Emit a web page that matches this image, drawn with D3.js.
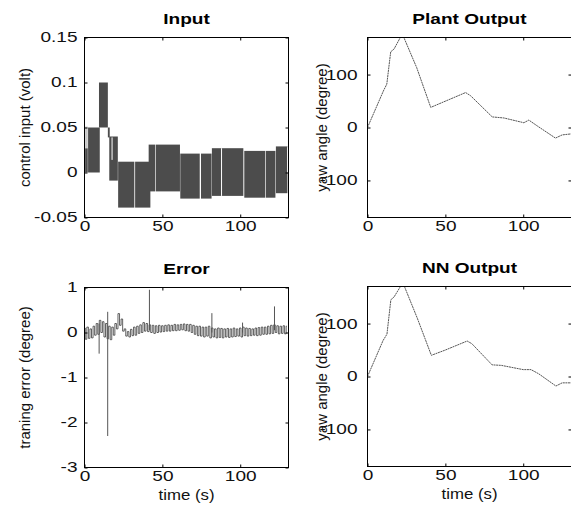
<!DOCTYPE html>
<html>
<head>
<meta charset="utf-8">
<script src="https://cdn.jsdelivr.net/npm/d3@7"></script>
<style>
  body { margin: 0; background: #fff; }
  svg { display: block; font-family: "Liberation Sans", Arial, sans-serif; }
</style>
</head>
<body>
<svg id="chart" width="571" height="511"></svg>
<script>
// tick values
const timeTicks = [0, 50, 100];
const inputTicks = [-0.05, 0, 0.05, 0.1, 0.15];
const yawTicks = [-100, 0, 100];
const errTicks = [-3, -2, -1, 0, 1];

// control input: bands where the signal chatters between hi and lo  [t0, t1, hi, lo]
const inputBlocks = [
  [0.4, 2.1, 0.027, 0.0],
  [2.3, 9.8, 0.05, 0.0],
  [9.3, 15.0, 0.1, 0.05],
  [15.0, 16.2, 0.05, 0.039],
  [15.9, 21.4, 0.04, -0.009],
  [21.6, 32.0, 0.012, -0.039],
  [32.5, 42.3, 0.012, -0.039],
  [41.2, 45.3, 0.031, -0.021],
  [45.7, 61.3, 0.031, -0.021],
  [61.5, 74.0, 0.021, -0.029],
  [74.8, 81.6, 0.021, -0.029],
  [81.8, 102.0, 0.027, -0.026],
  [102.6, 116.0, 0.024, -0.028],
  [116.4, 122.6, 0.024, -0.028],
  [122.9, 130.3, 0.029, -0.023]
];
const inputLight = [[0.4, 2.1, 0.051, 0.027]];
const inputGaps = [[17.7, 0.039, 0.014], [88.0, 0.027, -0.026], [130.5, 0.028, 0.0]];

// plant output (yaw angle)
const plantT   = [0, 10.2, 12.4, 14.9, 17, 21.8, 23.5, 31.6, 40.6, 63, 66.2, 80.1, 87.6, 100.4, 103.6, 109, 120.7, 125, 131];
const plantYaw = [0, 69, 82, 143, 148, 174, 169, 113, 38, 66, 60, 20, 18, 9, 14, 3, -20, -14, -12];

// NN output (yaw angle)
const nnT   = [0, 10, 12.5, 15, 17, 22, 24, 32, 41, 50, 64, 67, 80, 86, 100, 105, 110, 121, 125, 131];
const nnYaw = [0, 68, 80, 145, 150, 174, 168, 110, 40, 50, 67, 62, 22, 21, 13, 13, 5, -18, -12, -12];

// training error, one sample per second
const errVals = [
  0.1, -0.15, 0.12, -0.13, 0.08, -0.12, 0.14, -0.06, 0.2, -0.04,
  0.27, 0.0, 0.24, -0.1, 0.2, -0.14, 0.14, -0.16, 0.12, -0.06,
  0.2, 0.08, 0.42, 0.16, 0.3, 0.03, 0.08, -0.08, 0.02, -0.1,
  0.07, -0.07, 0.12, -0.06, 0.14, -0.02, 0.17, 0.0, 0.22, 0.03,
  0.2, 0.02, 0.17, 0.0, 0.16, -0.02, 0.15, 0.0, 0.16, 0.01,
  0.15, 0.02, 0.16, 0.03, 0.17, 0.03, 0.16, 0.04, 0.18, 0.04,
  0.17, 0.05, 0.18, 0.06, 0.19, 0.04, 0.18, 0.03, 0.18, 0.0,
  0.16, -0.04, 0.14, -0.07, 0.14, -0.08, 0.12, -0.1, 0.12, -0.08,
  0.14, -0.12, 0.1, -0.1, 0.08, -0.12, 0.1, -0.11, 0.09, -0.12,
  0.08, -0.1, 0.09, -0.11, 0.08, -0.1, 0.1, -0.09, 0.08, -0.08,
  0.1, -0.1, 0.12, -0.07, 0.1, -0.08, 0.09, -0.07, 0.08, -0.06,
  0.1, -0.07, 0.11, -0.06, 0.12, -0.04, 0.12, -0.04, 0.14, -0.03,
  0.16, -0.02, 0.17, 0.0, 0.15, -0.03, 0.14, -0.02, 0.15, -0.03,
  0.14
];
// isolated spikes  [t, top, bottom]
const errSpikes = [[9.4, 0.2, -0.47], [14.9, 0.46, -2.3], [41.7, 0.95, 0.05], [81.8, 0.43, 0.0], [101.5, 0.22, 0.0], [122, 0.58, 0.05]];

const svg = d3.select("#chart");

// dithered fills like the old screen capture
const defs = svg.append("defs");
function checker(id, a, b) {
  const p = defs.append("pattern").attr("id", id)
    .attr("width", 2).attr("height", 2).attr("patternUnits", "userSpaceOnUse");
  p.append("rect").attr("width", 2).attr("height", 2).attr("fill", b);
  p.append("rect").attr("width", 1).attr("height", 1).attr("fill", a);
  p.append("rect").attr("x", 1).attr("y", 1).attr("width", 1).attr("height", 1).attr("fill", a);
}
checker("dark", "#222", "#777");
checker("light", "#9a9a9a", "#f4f4f4");

function stretch(sel, k) {
  sel.each(function() {
    const w = this.getComputedTextLength();
    d3.select(this).attr("textLength", w * k).attr("lengthAdjust", "spacingAndGlyphs");
  });
}

function makePanel(id, left, top, yDomain, yTicks, yPad, title, ylabel, xlabel) {
  const w = 204, h = 180;
  const g = svg.append("g").attr("transform", "translate(" + (left + 0.5) + "," + (top + 0.5) + ")");
  const x = d3.scaleLinear().domain([0, 131]).range([0, w]);
  const y = d3.scaleLinear().domain(yDomain).range([h, 0]);

  defs.append("clipPath").attr("id", "clip" + id)
    .append("rect").attr("width", w).attr("height", h);
  const plot = g.append("g").attr("clip-path", "url(#clip" + id + ")");

  function finish() {
    const fmt = d => String(d);
    const bottom = g.append("g").attr("transform", "translate(0," + h + ")")
      .call(d3.axisBottom(x).tickValues(timeTicks).tickSizeInner(-3).tickSizeOuter(0).tickPadding(4));
    g.append("g")
      .call(d3.axisTop(x).tickValues(timeTicks).tickSizeInner(-3).tickSizeOuter(0).tickFormat(""));
    const leftAx = g.append("g")
      .call(d3.axisLeft(y).tickValues(yTicks).tickFormat(fmt).tickSizeInner(-3).tickSizeOuter(0).tickPadding(yPad));
    g.append("g").attr("transform", "translate(" + w + ",0)")
      .call(d3.axisRight(y).tickValues(yTicks).tickSizeInner(-3).tickSizeOuter(0).tickFormat(""));

    g.selectAll(".domain").remove();
    g.selectAll(".tick line").attr("stroke", "#000");
    [bottom, leftAx].forEach(a => {
      a.attr("font-size", null).attr("font-family", null);
      a.selectAll("text").attr("font-size", 14).attr("fill", "#111");
      stretch(a.selectAll("text"), 1.36);
    });

    g.append("rect").attr("width", w).attr("height", h)
      .attr("fill", "none").attr("stroke", "#000");

    const t = g.append("text").attr("x", w / 2).attr("y", -14)
      .attr("text-anchor", "middle").attr("font-size", 14).attr("font-weight", "bold")
      .text(title);
    stretch(t, 1.36);

    g.append("text")
      .attr("transform", "translate(" + (id % 2 ? -55 : -41) + "," + (h / 2) + ") rotate(-90)")
      .attr("text-anchor", "middle").attr("font-size", 15).attr("fill", "#111")
      .text(ylabel);

    if (xlabel) {
      const xl = g.append("text").attr("x", w / 2).attr("y", h + 32)
        .attr("text-anchor", "middle").attr("font-size", 15).attr("fill", "#111")
        .text(xlabel);
      stretch(xl, 1.12);
    }
  }
  return { g, plot, x, y, finish };
}

// ---- Input
const p1 = makePanel(1, 84, 37, [-0.05, 0.15], inputTicks, 7, "Input", "control input (volt)");
p1.plot.selectAll("rect.blk").data(inputBlocks).enter().append("rect")
  .attr("class", "blk")
  .attr("x", d => p1.x(d[0])).attr("width", d => p1.x(d[1]) - p1.x(d[0]))
  .attr("y", d => p1.y(d[2])).attr("height", d => p1.y(d[3]) - p1.y(d[2]))
  .attr("fill", "url(#dark)");
p1.plot.selectAll("rect.lt").data(inputLight).enter().append("rect")
  .attr("class", "lt")
  .attr("x", d => p1.x(d[0])).attr("width", d => p1.x(d[1]) - p1.x(d[0]))
  .attr("y", d => p1.y(d[2])).attr("height", d => p1.y(d[3]) - p1.y(d[2]))
  .attr("fill", "url(#light)");
p1.plot.selectAll("line.gap").data(inputGaps).enter().append("line")
  .attr("class", "gap")
  .attr("x1", d => p1.x(d[0])).attr("x2", d => p1.x(d[0]))
  .attr("y1", d => p1.y(d[1])).attr("y2", d => p1.y(d[2]))
  .attr("stroke", "#fff").attr("stroke-width", 1);
p1.finish();

// ---- Plant Output
const p2 = makePanel(2, 367, 37, [-170, 170], yawTicks, 10, "Plant Output", "yaw angle (degree)");
p2.plot.append("path")
  .datum(plantT.map((t, i) => [t, plantYaw[i]]))
  .attr("fill", "none").attr("stroke", "#555").attr("stroke-width", 1)
  .attr("stroke-dasharray", "2,0.6")
  .attr("d", d3.line().x(d => p2.x(d[0])).y(d => p2.y(d[1])));
p2.finish();

// ---- Error
const p3 = makePanel(3, 84, 287, [-3, 1], errTicks, 7, "Error", "traning error (degree)", "time (s)");
p3.plot.append("path")
  .datum(errVals)
  .attr("fill", "none").attr("stroke", "#3a3a3a").attr("stroke-width", 0.8)
  .attr("d", d3.line().curve(d3.curveStep).x((d, i) => p3.x(i)).y(d => p3.y(d)));
p3.plot.selectAll("line.spk").data(errSpikes).enter().append("line")
  .attr("class", "spk")
  .attr("x1", d => p3.x(d[0])).attr("x2", d => p3.x(d[0]))
  .attr("y1", d => p3.y(d[1])).attr("y2", d => p3.y(d[2]))
  .attr("stroke", "#555").attr("stroke-width", 1);
p3.finish();

// ---- NN Output
const p4 = makePanel(4, 367, 286, [-170, 170], yawTicks, 10, "NN Output", "yaw angle (degree)", "time (s)");
p4.plot.append("path")
  .datum(nnT.map((t, i) => [t, nnYaw[i]]))
  .attr("fill", "none").attr("stroke", "#555").attr("stroke-width", 1)
  .attr("stroke-dasharray", "2,0.6")
  .attr("d", d3.line().x(d => p4.x(d[0])).y(d => p4.y(d[1])));
p4.finish();
</script>
</body>
</html>
